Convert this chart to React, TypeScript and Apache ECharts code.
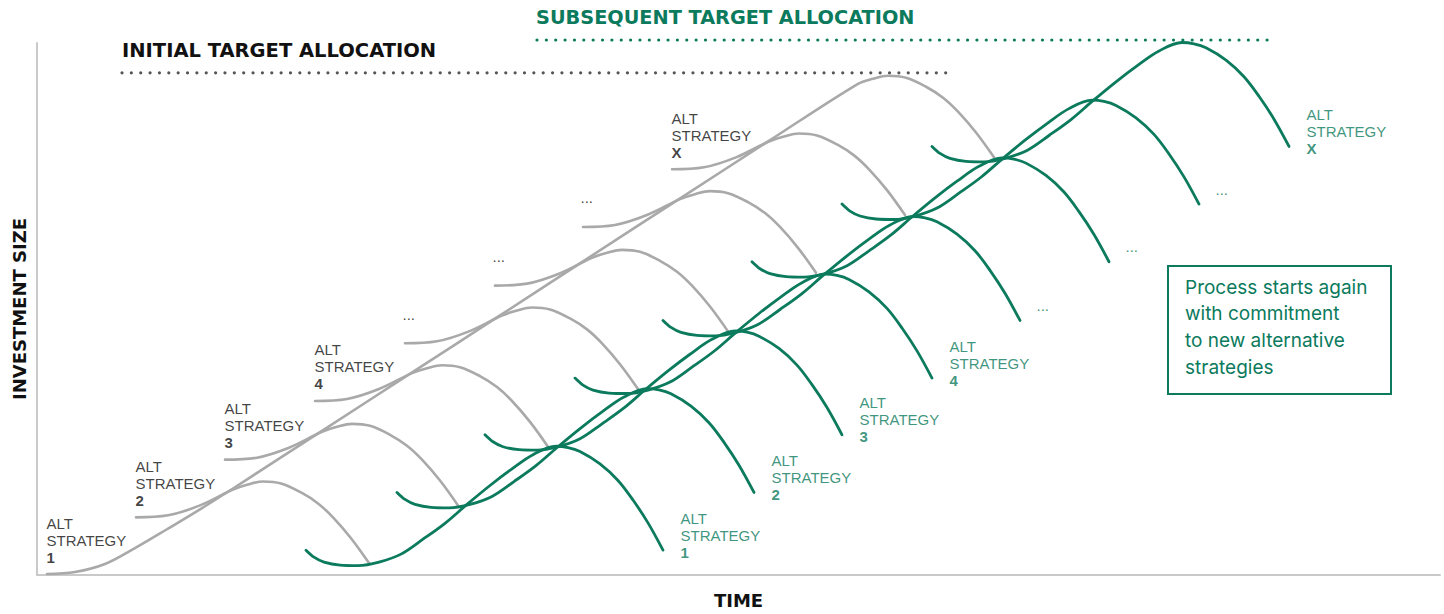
import React, { useEffect, useRef } from "react";
import * as echarts from "echarts";

// ---------- colours ----------
const GRAY_LINE = "#a9a9a9";
const GREEN = "#0b7a5d";
const INK = "#111111";
const DOT_GRAY = "#555555";
const AXIS = "#c9c9c9";

// ---------- axis extents (time on x, investment size on y; arbitrary units) ----------
const X_MAX = 1403;
const Y_MAX = 535;

// ---------- initial allocation ----------
// Strategy 1 ramp, which runs on as the long envelope up to the last initial peak
const initialRamp: [number, number][] = [
  [10, 1], [38, 3], [68, 11], [98, 27], [130, 46], [163, 66], [196, 87],
  [285, 145], [374, 203], [463, 261], [553, 320], [642, 378], [731, 436],
  [821, 494], [836, 499], [851, 502], [869, 500], [889, 491], [906, 480],
  [921, 466], [939, 445], [957, 420],
];
// life cycle of one initial strategy, as (time, size) offsets from its start
const initialShape: [number, number][] = [
  [0, 0], [32, 2], [64, 12], [97, 28], [112, 33], [127, 36], [145, 34],
  [165, 25], [182, 14], [197, 0], [215, -21], [233, -46],
];
const initialStarts: [number, number][] = [
  [99, 58], [188, 116], [278, 175], [368, 233], [458, 291], [546, 350], [635, 408],
];
const initialLabels = ["1", "2", "3", "4", "...", "...", "...", "X"];

// ---------- subsequent allocation ----------
const subsequentShape: [number, number][] = [
  [0, 0], [8, -7], [18, -12], [34, -15], [52, -15.5], [73, -12], [95, -4],
  [117, 11], [139, 27], [161, 46], [184, 65], [205, 81], [227, 96],
  [250, 104.5], [262, 103.2], [274, 99.2], [294, 86.8], [312, 70.1],
  [327, 50.4], [342, 27.4], [357, 0],
];
const subsequentStarts: [number, number][] = [
  [269, 25], [360, 83], [448, 141], [538, 198], [626, 256], [715, 315], [805, 373], [895, 431],
];
const subsequentLabels = ["1", "2", "3", "4", "...", "...", "...", "X"];

// ---------- target allocation levels ----------
const initialTargetLine: [number, number][] = [[85, 505], [918, 505]];
const subsequentTargetLine: [number, number][] = [[500, 538], [1231, 538]];

const boxLines = ["Process starts again", "with commitment", "to new alternative", "strategies"];

const place = (shape: [number, number][], start: [number, number]) =>
  shape.map(([dx, dy]) => [start[0] + dx, start[1] + dy]);

const curve = (data: number[][], color: string, width: number, z: number) => ({
  type: "line",
  data,
  smooth: 0.35,
  showSymbol: false,
  symbol: "none",
  clip: false,
  silent: true,
  z,
  lineStyle: { color, width, cap: "round", join: "round" },
});

const dotted = (data: number[][], color: string) => ({
  type: "line",
  data,
  showSymbol: false,
  symbol: "none",
  clip: false,
  silent: true,
  z: 1,
  lineStyle: { color, width: 3.2, type: [0.01, 9.35], cap: "round" },
});

const labelFont = "Liberation Sans";
const rich = (color: string) => ({
  a: { fontFamily: labelFont, fontSize: 15, lineHeight: 17, color },
  b: { fontFamily: labelFont, fontSize: 15, fontWeight: "bold", lineHeight: 17, color },
});

export default function App() {
  const ref = useRef<HTMLDivElement>(null);

  useEffect(() => {
    document.body.style.margin = "0";
    if (!ref.current) return;
    const chart = echarts.init(ref.current, undefined, { renderer: "svg" });

    const grayLabelData = initialLabels.map((t, i) => {
      const p = i === 0 ? initialRamp[0] : initialStarts[i - 1];
      const item: any = { value: [p[0], p[1]], name: t };
      if (t === "...") {
        item.label = { formatter: "...", position: [-2, -21], fontSize: 15, fontFamily: labelFont, color: INK };
      }
      return item;
    });

    const greenLabelData = subsequentLabels.map((t, i) => {
      const s = subsequentStarts[i];
      const e = subsequentShape[subsequentShape.length - 1];
      const item: any = { value: [s[0] + e[0], s[1] + e[1]], name: t };
      if (t === "...") {
        item.label = {
          formatter: "...", position: [17, -7], verticalAlign: "bottom",
          fontSize: 15, fontFamily: labelFont, color: GREEN,
        };
      }
      return item;
    });

    const series: any[] = [
      dotted(initialTargetLine, DOT_GRAY),
      dotted(subsequentTargetLine, GREEN),
      curve(initialRamp, GRAY_LINE, 2.6, 2),
      ...initialStarts.map((s) => curve(place(initialShape, s), GRAY_LINE, 2.6, 2)),
      ...subsequentStarts.map((s) => curve(place(subsequentShape, s), GREEN, 2.8, 3)),
      {
        type: "scatter",
        data: grayLabelData,
        symbolSize: 1,
        silent: true,
        clip: false,
        z: 5,
        itemStyle: { color: "rgba(0,0,0,0)" },
        label: {
          show: true,
          position: [0, -8],
          align: "left",
          verticalAlign: "bottom",
          formatter: (p: any) => `{a|ALT}\n{a|STRATEGY}\n{b|${p.name}}`,
          rich: rich(INK),
        },
      },
      {
        type: "scatter",
        data: greenLabelData,
        symbolSize: 1,
        silent: true,
        clip: false,
        z: 5,
        itemStyle: { color: "rgba(0,0,0,0)" },
        label: {
          show: true,
          position: [18, -40],
          align: "left",
          verticalAlign: "top",
          formatter: (p: any) => `{a|ALT}\n{a|STRATEGY}\n{b|${p.name}}`,
          rich: rich(GREEN),
        },
      },
    ];

    chart.setOption({
      animation: false,
      grid: { left: 37, right: 4, top: 43, bottom: 36, containLabel: false },
      xAxis: {
        type: "value",
        min: 0,
        max: X_MAX,
        name: "TIME",
        nameLocation: "middle",
        nameGap: 16,
        nameTextStyle: { fontFamily: "DejaVu Sans", fontWeight: "bold", fontSize: 18, color: INK },
        axisLine: { show: true, onZero: false, lineStyle: { color: AXIS, width: 2 } },
        axisTick: { show: false },
        axisLabel: { show: false },
        splitLine: { show: false },
      },
      yAxis: {
        type: "value",
        min: 0,
        max: Y_MAX,
        name: "INVESTMENT SIZE",
        nameLocation: "middle",
        nameGap: 9,
        nameTextStyle: { fontFamily: "DejaVu Sans", fontWeight: "bold", fontSize: 18, color: INK },
        axisLine: { show: true, onZero: false, lineStyle: { color: AXIS, width: 2 } },
        axisTick: { show: false },
        axisLabel: { show: false },
        splitLine: { show: false },
      },
      series,
      graphic: [
        {
          type: "text",
          left: 122,
          top: 40,
          silent: true,
          style: { text: "INITIAL TARGET ALLOCATION", font: 'bold 19.5px "DejaVu Sans"', fill: INK },
        },
        {
          type: "text",
          left: 536,
          top: 8,
          silent: true,
          style: { text: "SUBSEQUENT TARGET ALLOCATION", font: 'bold 19.3px "DejaVu Sans"', fill: GREEN },
        },
        {
          type: "group",
          left: 1167,
          top: 265,
          silent: true,
          children: [
            {
              type: "rect",
              shape: { x: 1, y: 1, width: 223, height: 128 },
              style: { fill: "#ffffff", stroke: GREEN, lineWidth: 2 },
            },
            {
              type: "text",
              x: 18,
              y: 9,
              style: {
                text: boxLines.join("\n"),
                font: "19px Inter",
                lineHeight: 26.6,
                fill: GREEN,
                verticalAlign: "top",
              },
            },
          ],
        },
      ],
    });

    return () => chart.dispose();
  }, []);

  return <div ref={ref} style={{ width: 1444, height: 614 }} />;
}
